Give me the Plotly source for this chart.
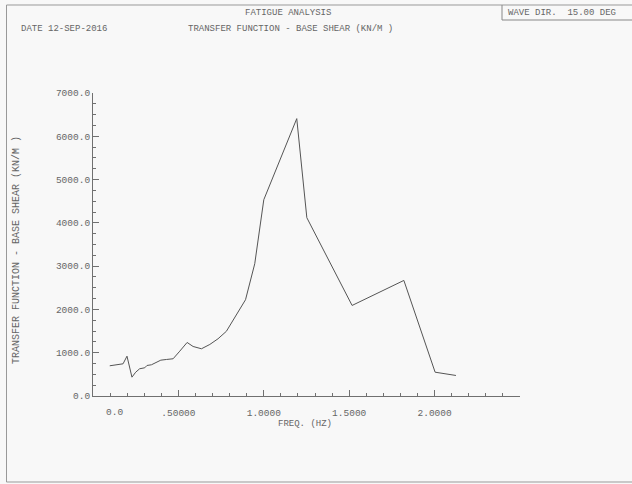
import plotly.graph_objects as go

# ---- data ----
freq_hz = [0.098, 0.127, 0.156, 0.176, 0.199, 0.228, 0.250, 0.273, 0.303, 0.316,
           0.342, 0.371, 0.397, 0.430, 0.469, 0.508, 0.551, 0.586, 0.635, 0.684,
           0.732, 0.781, 0.893, 0.947, 1.000, 1.193, 1.252, 1.517, 1.820, 2.003, 2.125]
base_shear = [698, 712, 735, 744, 920, 435, 550, 629, 652, 705,
              721, 768, 828, 844, 860, 1036, 1237, 1144, 1091, 1191,
              1322, 1495, 2224, 3056, 4535, 6408, 4119, 2092, 2670, 550, 474]

x_tick_vals = [0.0, 0.5, 1.0, 1.5, 2.0]
x_tick_text = ["", ".50000", "1.0000", "1.5000", "2.0000"]
zero_label = "0.0"
y_tick_vals = [0, 1000, 2000, 3000, 4000, 5000, 6000, 7000]

W, H = 632, 484
L, R, T, B = 93, 112, 93, 88
PW, PH = W - L - R, H - T - B

def px(x):
    return (x - L) / PW

def py(y):
    return (H - B - y) / PH

FONT = "Liberation Mono"
TXT = "#666666"
AX = "#707070"

fig = go.Figure()
fig.add_trace(go.Scatter(x=freq_hz, y=base_shear, mode="lines",
                         line=dict(color="#555555", width=1), hoverinfo="skip",
                         showlegend=False))

fig.update_layout(
    width=W, height=H,
    margin=dict(l=L, r=R, t=T, b=B),
    paper_bgcolor="#f8f8f8", plot_bgcolor="#f8f8f8",
    font=dict(family=FONT, size=9, color=TXT),
    showlegend=False,
    xaxis=dict(range=[0, 2.5], showgrid=False, zeroline=False, showline=True,
               linecolor=AX, linewidth=1, ticks="inside", ticklen=6, tickcolor=AX,
               tickvals=x_tick_vals, ticktext=x_tick_text, ticklabelstandoff=8,
               minor=dict(ticks="inside", ticklen=3, dtick=0.1, tickcolor=AX, showgrid=False),
               tickfont=dict(family=FONT, size=9.5, color=TXT), fixedrange=True),
    yaxis=dict(range=[0, 7000], showgrid=False, zeroline=False, showline=True,
               linecolor=AX, linewidth=1, ticks="inside", ticklen=6, tickcolor=AX,
               tickvals=y_tick_vals, tickformat=".1f", ticklabelstandoff=0,
               minor=dict(ticks="inside", ticklen=3, dtick=250, tickcolor=AX, showgrid=False),
               tickfont=dict(family=FONT, size=9.5, color=TXT), fixedrange=True),
)

annos = [
    dict(text="FATIGUE ANALYSIS", x=px(288), y=py(13), xanchor="center", yanchor="middle"),
    dict(text="DATE 12-SEP-2016", x=px(19), y=py(29), xanchor="left", yanchor="middle"),
    dict(text="TRANSFER FUNCTION - BASE SHEAR (KN/M )", x=px(186), y=py(29),
         xanchor="left", yanchor="middle"),
    dict(text="WAVE DIR.  15.00 DEG", x=px(506), y=py(13), xanchor="left", yanchor="middle"),
    dict(text="FREQ. (HZ)", x=px(305), y=py(424), xanchor="center", yanchor="middle"),
    dict(text="TRANSFER FUNCTION - BASE SHEAR (KN/M )", x=px(17), y=py(250),
         xanchor="center", yanchor="middle", textangle=-90, font_size=10),
    dict(text=zero_label, x=px(114), y=py(412), xanchor="center", yanchor="middle",
         font_size=9.5),
]
for a in annos:
    fs = a.pop("font_size", 9)
    fig.add_annotation(xref="paper", yref="paper", showarrow=False,
                       font=dict(family=FONT, size=fs, color=TXT), **a)

# outer frame and header box
fig.add_shape(type="rect", xref="paper", yref="paper",
              x0=px(6.5), x1=px(640), y0=py(5), y1=py(482),
              line=dict(color="#999999", width=1))
fig.add_shape(type="line", xref="paper", yref="paper",
              x0=px(502), x1=px(502), y0=py(5), y1=py(20), line=dict(color="#888888", width=1))
fig.add_shape(type="line", xref="paper", yref="paper",
              x0=px(502), x1=px(640), y0=py(20), y1=py(20), line=dict(color="#888888", width=1))

fig.write_html("out.html", config={"displayModeBar": False},
               post_script="document.body.style.margin='0';document.body.style.overflow='hidden';")
